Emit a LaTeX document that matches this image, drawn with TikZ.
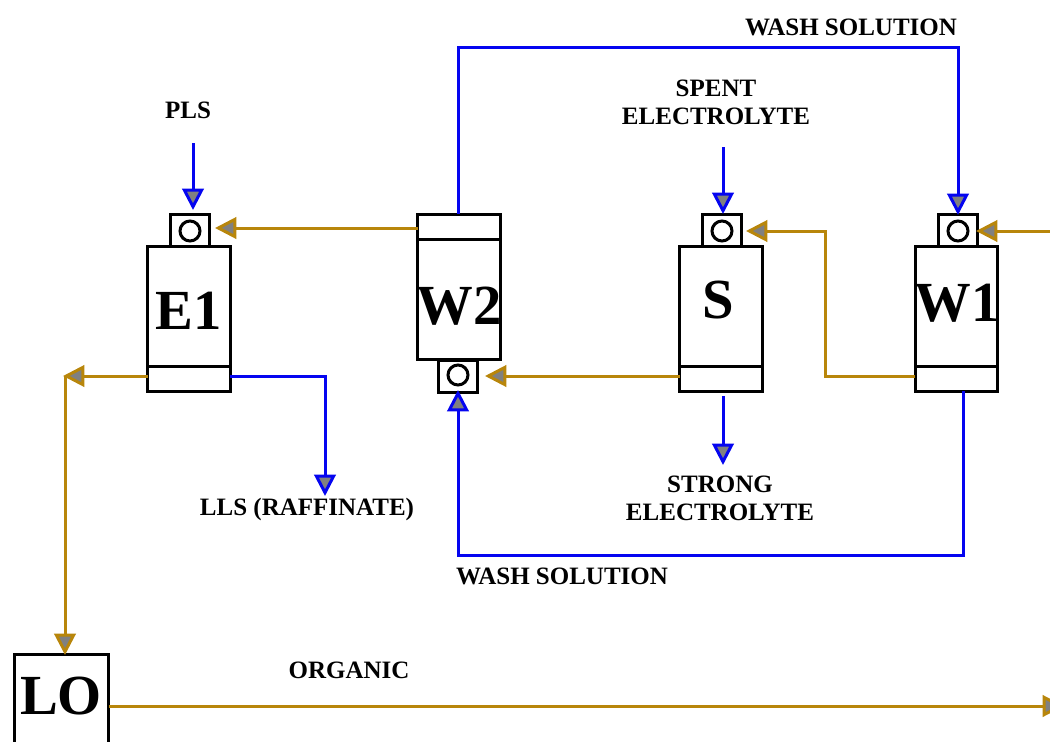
\documentclass[tikz,border=0pt]{standalone}
\usepackage{fontspec}
\setmainfont{Liberation Serif}
\usetikzlibrary{arrows.meta,calc}
\definecolor{flowblue}{RGB}{5,5,240}
\definecolor{flowbrown}{RGB}{184,134,11}
\definecolor{tipgray}{RGB}{128,128,128}
\tikzset{
  box/.style={draw=black,line width=2.25pt,fill=white,rectangle,inner sep=0pt,outer sep=0pt},
  unitbody/.style={box,minimum width=62pt,minimum height=108.5pt},
  band/.style={box,minimum width=62pt,minimum height=18.75pt},
  port/.style={box,minimum width=29.5pt,minimum height=24pt},
  hole/.style={draw=black,line width=2.25pt,fill=white,circle,minimum size=15pt,inner sep=0pt,outer sep=0pt},
  big/.style={font=\fontsize{42.5}{42.5}\selectfont\bfseries,inner sep=0pt},
  lab/.style={font=\fontsize{18.75}{21}\selectfont\bfseries,inner sep=0pt,align=center},
  flow/.style={line width=2.25pt,line join=miter,
    -{Triangle[fill=tipgray,length=16pt,width=16pt,line width=2.25pt,sep=0pt]}},
  blueflow/.style={flow,draw=flowblue},
  brownflow/.style={flow,draw=flowbrown},
}
\begin{document}
\begin{tikzpicture}[x=0.75pt,y=-0.75pt]
\clip (0,0) rectangle (1050,742);
% E1
\node[unitbody] (E1) at (189,318.5) {};
\node[band] (E1band) at (189,378.5) {};
\node[port] (E1port) at (190,230) {};
\node[hole] (E1hole) at (190,231) {};
\node[big] (E1text) at (189,311) {E1};
% W2
\node[unitbody] (W2) at (459,287) {};
\node[band] (W2band) at (459,226.5) {};
\node[port] (W2port) at (458,376) {};
\node[hole] (W2hole) at (458,375) {};
\node[big] (W2text) at (459,306) {W2};
% S
\node[unitbody] (S) at (721,318.5) {};
\node[band] (Sband) at (721,378.5) {};
\node[port] (Sport) at (722,230) {};
\node[hole] (Shole) at (722,231) {};
\node[big] (Stext) at (718,300) {S};
% W1
\node[unitbody] (W1) at (956.5,318.5) {};
\node[band] (W1band) at (956.5,378.5) {};
\node[port] (W1port) at (958,230) {};
\node[hole] (W1hole) at (958,231) {};
\node[big] (W1text) at (957,303) {W1};
% LO
\node[box,minimum width=71pt,minimum height=90pt] (LO) at (61.5,714) {};
\node[big] (LOtext) at (61,696) {LO};
% labels
\node[lab] (lPLS) at (188,110) {PLS};
\node[lab] (lWash1) at (851,27) {WASH SOLUTION};
\node[lab] (lSpent) at (716,102) {SPENT\\ELECTROLYTE};
\node[lab] (lLLS) at (307,509) {LLS (RAFFINATE)};
\node[lab] (lStrong) at (720,498) {STRONG\\ELECTROLYTE};
\node[lab] (lWash2) at (562,576) {WASH SOLUTION};
\node[lab] (lOrg) at (349,670) {ORGANIC};
% free ends
\coordinate (plsStart) at (193,143);
\coordinate (plsEnd) at (193,210);
\coordinate (spentStart) at (723,147);
\coordinate (spentEnd) at (723,214);
\coordinate (strongStart) at (723,396);
\coordinate (strongEnd) at (723,465);
\coordinate (llsEnd) at (325,496);
\coordinate (w1feed) at (1052,231);
\coordinate (w1tip) at (976,231);
\coordinate (loEnd) at (1064,706);
\coordinate (e1tip) at (63,376);
\coordinate (e1turn) at (65,376);
\coordinate (e1port) at (215,228);
\coordinate (w2tip) at (485,376);
\coordinate (stip) at (746,231);
\coordinate (w1turn) at (825,376);
\coordinate (washTop) at (458,48);
\coordinate (washIn) at (958,215);
\coordinate (washBot) at (963,555);
\coordinate (w2in) at (458,390);
% blue
\draw[blueflow] (plsStart) -- (plsEnd);
\draw[blueflow] (spentStart) -- (spentEnd);
\draw[blueflow] (strongStart) -- (strongEnd);
\draw[blueflow] (E1band.east |- e1turn) -| (llsEnd);
\draw[blueflow] (W2band.north -| washTop) -- (washTop) -| (washIn);
\draw[blueflow] (W1band.south -| washBot) -- (washBot) -| (w2in);
% brown
\draw[brownflow] (W2band.west |- e1port) -- (e1port);
\draw[brownflow] (E1band.west |- e1tip) -- (e1tip);
\draw[brownflow] (e1turn) -- ([yshift=-0.75pt]LO.north -| e1turn);
\draw[brownflow] (Sband.west |- w2tip) -- (w2tip);
\draw[brownflow] (W1band.west |- w1turn) -- (w1turn) |- (stip);
\draw[brownflow] (w1feed) -- (w1tip);
\draw[brownflow] (LO.east |- loEnd) -- (loEnd);
\end{tikzpicture}
\end{document}
